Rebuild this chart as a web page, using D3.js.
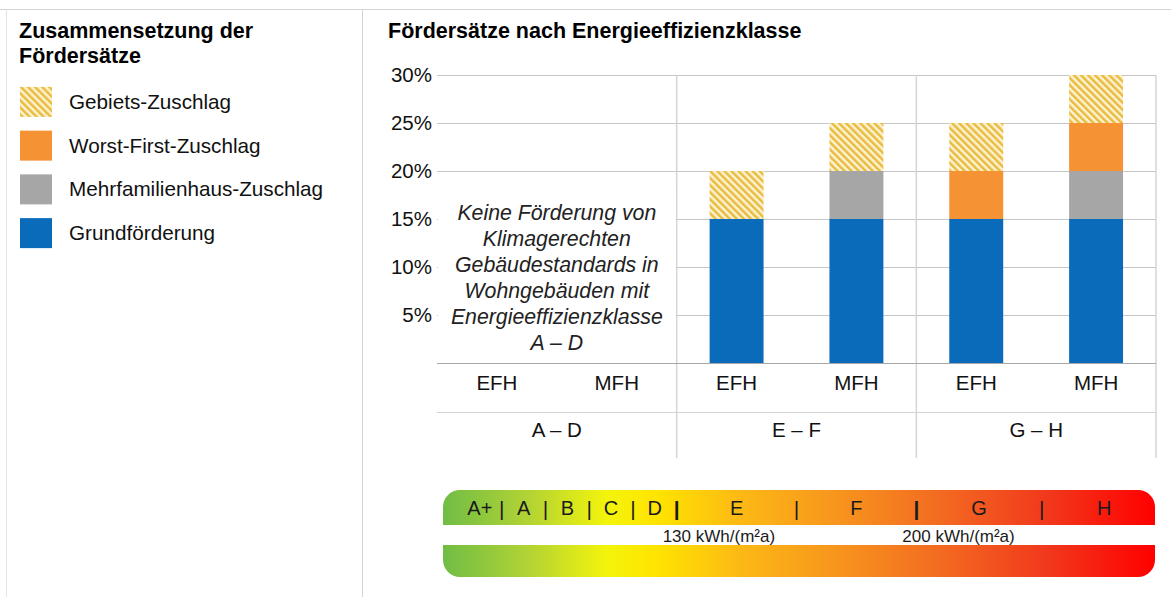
<!DOCTYPE html>
<html>
<head>
<meta charset="utf-8">
<script src="https://cdn.jsdelivr.net/npm/d3@7"></script>
<style>
  html, body { margin: 0; padding: 0; background: #fff; }
  svg { display: block; font-family: "Liberation Sans", Arial, sans-serif; }
</style>
</head>
<body>
<svg id="chart" width="1171" height="597"></svg>
<script>
// Chart data
const groups = ["A – D", "E – F", "G – H"];
const types = ["EFH", "MFH"];
const seriesNames = ["Grundförderung", "Mehrfamilienhaus-Zuschlag", "Worst-First-Zuschlag", "Gebiets-Zuschlag"];
const seriesColors = ["#0a6bbb", "#a6a6a6", "#f59233", "url(#hatch)"];
// one value per bar: A–D EFH, A–D MFH, E–F EFH, E–F MFH, G–H EFH, G–H MFH
const grundValues = [0, 0, 15, 15, 15, 15];
const mfhValues = [0, 0, 0, 5, 0, 5];
const worstFirstValues = [0, 0, 0, 0, 5, 5];
const gebietValues = [0, 0, 5, 5, 5, 5];
const yTicks = [5, 10, 15, 20, 25, 30];
const noteLines = ["Keine Förderung von", "Klimagerechten", "Gebäudestandards in", "Wohngebäuden mit", "Energieeffizienzklasse", "A – D"];
const energyClasses = ["A+", "A", "B", "C", "D", "E", "F", "G", "H"];
const classGroup = [0, 0, 0, 0, 0, 1, 1, 2, 2];
const thresholdLabels = ["130 kWh/(m²a)", "200 kWh/(m²a)"];

const legendTitle = ["Zusammensetzung der", "Fördersätze"];
const chartTitle = "Fördersätze nach Energieeffizienzklasse";

const svg = d3.select('#chart');
const lineColor = '#d4d4d4';

// hatch pattern + gradient
const defs = svg.append('defs');
const pat = defs.append('pattern')
    .attr('id', 'hatch')
    .attr('patternUnits', 'userSpaceOnUse')
    .attr('width', 5).attr('height', 5)
    .attr('patternTransform', 'rotate(-45)');
pat.append('rect').attr('width', 5).attr('height', 5).attr('fill', '#fdf3d2');
pat.append('rect').attr('width', 2.5).attr('height', 5).attr('fill', '#e9bb3f');

// frame lines
svg.append('line').attr('x1', 0).attr('x2', 1171).attr('y1', 9.5).attr('y2', 9.5)
    .attr('stroke', lineColor);
svg.append('line').attr('x1', 6.5).attr('x2', 6.5).attr('y1', 9).attr('y2', 597)
    .attr('stroke', '#e4e4e4');
svg.append('line').attr('x1', 362.5).attr('x2', 362.5).attr('y1', 9).attr('y2', 597)
    .attr('stroke', lineColor);

// Legend panel
svg.append('text')
    .attr('x', 19).attr('y', 38)
    .style('font-size', '21.5px').style('font-weight', 'bold')
    .selectAll('tspan')
    .data(legendTitle)
    .enter()
    .append('tspan')
    .attr('x', 19)
    .attr('dy', (d, i) => i === 0 ? 0 : 25)
    .text(d => d);

const legendOrder = d3.range(seriesNames.length).reverse();
const legendY = d3.scaleBand().domain(legendOrder).range([80, 255]);

const legendItem = svg.selectAll('.legend-item')
    .data(legendOrder)
    .enter()
    .append('g')
    .attr('class', 'legend-item')
    .attr('transform', d => `translate(20,${legendY(d) + legendY.bandwidth() / 2})`);

legendItem.append('rect')
    .attr('x', 0).attr('y', -15)
    .attr('width', 32).attr('height', 30)
    .attr('fill', d => seriesColors[d]);

legendItem.append('text')
    .attr('x', 49).attr('y', 7)
    .style('font-size', '20.7px')
    .attr('fill', '#111')
    .text(d => seriesNames[d]);

// Chart title
svg.append('text')
    .attr('x', 388).attr('y', 38)
    .style('font-size', '21.5px').style('font-weight', 'bold')
    .text(chartTitle);

// Scales
const xGroup = d3.scaleBand().domain(groups).range([437, 1156]).padding(0);
const xType = d3.scaleBand().domain(types).range([0, xGroup.bandwidth()])
    .paddingInner(0.55).paddingOuter(0.275);
const y = d3.scaleLinear().domain([0, 30]).range([363, 75]);

const plotLeft = xGroup.range()[0];
const plotRight = xGroup.range()[1];

// gridlines
svg.append('g')
    .selectAll('line')
    .data(yTicks)
    .enter()
    .append('line')
    .attr('x1', plotLeft).attr('x2', plotRight)
    .attr('y1', d => Math.round(y(d)) + 0.5).attr('y2', d => Math.round(y(d)) + 0.5)
    .attr('stroke', '#c6c6c6');

// vertical group separators
svg.append('g')
    .selectAll('line')
    .data(groups.slice(1).map(g => xGroup(g)).concat([plotRight]))
    .enter()
    .append('line')
    .attr('x1', d => d).attr('x2', d => d)
    .attr('y1', y(30)).attr('y2', 458)
    .attr('stroke', lineColor).attr('stroke-width', 1.5);

// y axis labels
const yAxis = svg.append('g')
    .attr('transform', `translate(${plotLeft},0)`)
    .call(d3.axisLeft(y).tickValues(yTicks).tickFormat(d => d + '%').tickSize(0).tickPadding(5));
yAxis.select('.domain').remove();
yAxis.selectAll('text')
    .style('font-size', '20.5px')
    .style('font-family', '"Liberation Sans", Arial, sans-serif')
    .attr('fill', '#111');

// stacked bars
const barRows = [];
groups.forEach((g, gi) => {
    types.forEach((t, ti) => {
        const i = gi * types.length + ti;
        barRows.push({ group: g, type: t, s0: grundValues[i], s1: mfhValues[i], s2: worstFirstValues[i], s3: gebietValues[i] });
    });
});
const stack = d3.stack().keys(['s0', 's1', 's2', 's3']);
const stacked = stack(barRows);

svg.append('g')
    .selectAll('g')
    .data(stacked)
    .enter()
    .append('g')
    .attr('fill', (d, i) => seriesColors[i])
    .selectAll('rect')
    .data(d => d.filter(p => p[1] > p[0]))
    .enter()
    .append('rect')
    .attr('x', d => xGroup(d.data.group) + xType(d.data.type))
    .attr('y', d => y(d[1]))
    .attr('width', xType.bandwidth())
    .attr('height', d => y(d[0]) - y(d[1]));

// baseline
svg.append('line')
    .attr('x1', plotLeft).attr('x2', plotRight)
    .attr('y1', y(0) + 0.5).attr('y2', y(0) + 0.5)
    .attr('stroke', '#a8a8a8');

// note for A – D
const noteX = xGroup(groups[0]);
svg.append('rect')
    .attr('x', noteX + 1).attr('y', y(18.5))
    .attr('width', xGroup.bandwidth() - 2)
    .attr('height', y(0) - y(18.5) - 1)
    .attr('fill', '#fff');
svg.append('text')
    .attr('text-anchor', 'middle')
    .style('font-size', '21.3px').style('font-style', 'italic')
    .attr('fill', '#222')
    .selectAll('tspan')
    .data(noteLines)
    .enter()
    .append('tspan')
    .attr('x', noteX + xGroup.bandwidth() / 2)
    .attr('y', (d, i) => 220 + i * 26)
    .text(d => d);

// category rows
const catRow = svg.append('g');
groups.forEach(g => {
    types.forEach(t => {
        catRow.append('text')
            .attr('x', xGroup(g) + xType(t) + xType.bandwidth() / 2)
            .attr('y', 390)
            .attr('text-anchor', 'middle')
            .style('font-size', '20.5px')
            .attr('fill', '#111')
            .text(t);
    });
    catRow.append('text')
        .attr('x', xGroup(g) + xGroup.bandwidth() / 2)
        .attr('y', 437)
        .attr('text-anchor', 'middle')
        .style('font-size', '20.5px')
        .attr('fill', '#111')
        .text(g);
});
svg.append('line')
    .attr('x1', plotLeft).attr('x2', plotRight)
    .attr('y1', 412.5).attr('y2', 412.5)
    .attr('stroke', lineColor);

// Energy efficiency strip
const stripLeft = plotLeft + 6;
const stripRight = plotRight - 1;
const grad = defs.append('linearGradient')
    .attr('id', 'energy')
    .attr('gradientUnits', 'userSpaceOnUse')
    .attr('x1', stripLeft).attr('x2', stripRight)
    .attr('y1', 0).attr('y2', 0);
[[0, '#70bd45'], [0.12, '#b2d334'], [0.23, '#f4f40b'], [0.3, '#ffe400'],
 [0.42, '#fcb815'], [0.55, '#f7961d'], [0.7, '#f36a21'], [0.85, '#f1381c'], [1, '#ff0000']]
    .forEach(s => grad.append('stop').attr('offset', s[0]).attr('stop-color', s[1]));

const r = 17;
function roundedBar(x0, x1, y0, y1, top) {
    const p = d3.path();
    if (top) {
        p.moveTo(x0, y1);
        p.lineTo(x0, y0 + r);
        p.arcTo(x0, y0, x0 + r, y0, r);
        p.lineTo(x1 - r, y0);
        p.arcTo(x1, y0, x1, y0 + r, r);
        p.lineTo(x1, y1);
    } else {
        p.moveTo(x0, y0);
        p.lineTo(x1, y0);
        p.lineTo(x1, y1 - r);
        p.arcTo(x1, y1, x1 - r, y1, r);
        p.lineTo(x0 + r, y1);
        p.arcTo(x0, y1, x0, y1 - r, r);
    }
    p.closePath();
    return p.toString();
}
svg.append('path').attr('d', roundedBar(stripLeft, stripRight, 490, 525, true)).attr('fill', 'url(#energy)');
svg.append('path').attr('d', roundedBar(stripLeft, stripRight, 545, 577, false)).attr('fill', 'url(#energy)');

// class labels inside the top strip, placed per chart group
const classLayer = svg.append('g');
groups.forEach((g, gi) => {
    const cls = energyClasses.filter((c, i) => classGroup[i] === gi);
    const start = gi === 0 ? stripLeft + 15 : xGroup(g);
    const end = gi === groups.length - 1 ? stripRight + 12 : xGroup(g) + xGroup.bandwidth();
    const xc = d3.scaleBand().domain(cls).range([start, end]);
    cls.forEach((c, ci) => {
        classLayer.append('text')
            .attr('x', xc(c) + xc.bandwidth() / 2)
            .attr('y', 515)
            .attr('text-anchor', 'middle')
            .style('font-size', '20px')
            .attr('fill', '#1a1a1a')
            .text(c);
        const last = gi === groups.length - 1 && ci === cls.length - 1;
        if (!last) {
            classLayer.append('text')
                .attr('x', xc(c) + xc.bandwidth())
                .attr('y', 516)
                .attr('text-anchor', 'middle')
                .style('font-size', '21px')
                .style('font-weight', ci === cls.length - 1 ? 'bold' : 'normal')
                .attr('fill', '#1a1a1a')
                .text('|');
        }
    });
});

// threshold labels between the strips
svg.selectAll('.threshold')
    .data(thresholdLabels)
    .enter()
    .append('text')
    .attr('class', 'threshold')
    .attr('x', (d, i) => xGroup(groups[i + 1]) - 14)
    .attr('y', 542)
    .style('font-size', '17px')
    .attr('fill', '#1a1a1a')
    .text(d => d);
</script>
</body>
</html>
